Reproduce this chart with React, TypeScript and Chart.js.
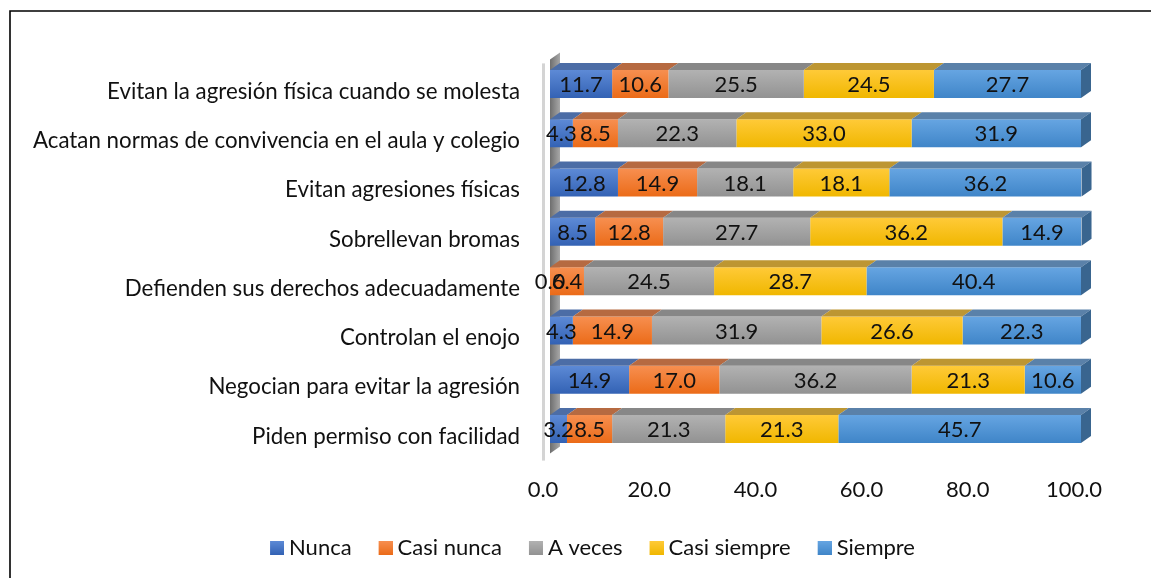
import React, { useEffect, useRef } from "react";
import { Chart, registerables } from "chart.js";

Chart.register(...registerables);

const categories = [
  "Evitan la agresión física cuando se molesta",
  "Acatan normas de convivencia en el aula y colegio",
  "Evitan agresiones físicas",
  "Sobrellevan bromas",
  "Defienden sus derechos adecuadamente",
  "Controlan el enojo",
  "Negocian para evitar la agresión",
  "Piden permiso con facilidad",
];
const nunca = [11.7, 4.3, 12.8, 8.5, 0.0, 4.3, 14.9, 3.2];
const casiNunca = [10.6, 8.5, 14.9, 12.8, 6.4, 14.9, 17.0, 8.5];
const aVeces = [25.5, 22.3, 18.1, 27.7, 24.5, 31.9, 36.2, 21.3];
const casiSiempre = [24.5, 33.0, 18.1, 36.2, 28.7, 26.6, 21.3, 21.3];
const siempre = [27.7, 31.9, 36.2, 14.9, 40.4, 22.3, 10.6, 45.7];

const FONT = "Lato, Carlito, sans-serif";
const TEXT = "#111111";
const DX = 10;
const DY = 7;
const BAR_H = 28;

const seriesStyles = [
  { name: "Nunca", data: nunca, hi: "#5d8ad6", lo: "#3362b4", top: "#4c6da6" },
  { name: "Casi nunca", data: casiNunca, hi: "#f78f50", lo: "#eb6b18", top: "#b66a41" },
  { name: "A veces", data: aVeces, hi: "#b2b2b2", lo: "#929292", top: "#878787" },
  { name: "Casi siempre", data: casiSiempre, hi: "#ffca38", lo: "#f0b700", top: "#bd9632" },
  { name: "Siempre", data: siempre, hi: "#66a5e2", lo: "#3f85c8", top: "#5a81a9" },
];

function swatch(hi: string, lo: string) {
  const c = document.createElement("canvas");
  c.width = 26;
  c.height = 14;
  const g = c.getContext("2d")!;
  const grad = g.createLinearGradient(0, 0, 0, 14);
  grad.addColorStop(0, hi);
  grad.addColorStop(1, lo);
  g.fillStyle = grad;
  g.fillRect(12, 0, 14, 14);
  return c;
}

const pseudo3d = {
  id: "pseudo3d",
  afterLayout(chart: any) {
    // the category labels are longer than the axis box: let them use the free space on the left
    chart.scales.y.left = 0;
  },
  beforeDraw(chart: any) {
    const { ctx, width, height } = chart;
    ctx.save();
    ctx.fillStyle = "#ffffff";
    ctx.fillRect(0, 0, width, height);
    ctx.strokeStyle = "#000000";
    ctx.lineWidth = 1.6;
    ctx.beginPath();
    ctx.moveTo(10, height);
    ctx.lineTo(10, 11);
    ctx.lineTo(width, 11);
    ctx.stroke();
    ctx.restore();
  },
  beforeDatasetsDraw(chart: any) {
    const { ctx, chartArea, scales } = chart;
    const x0 = scales.x.getPixelForValue(0);
    const t = chartArea.top;
    const b = chartArea.bottom;
    ctx.save();
    ctx.fillStyle = "#d4d4d4";
    ctx.fillRect(x0 - 8, t + 4, 3, b - t + 3);
    const g = ctx.createLinearGradient(x0, 0, x0 + DX, 0);
    g.addColorStop(0, "#6e6e6e");
    g.addColorStop(1, "#a8a8a8");
    ctx.fillStyle = g;
    ctx.beginPath();
    ctx.moveTo(x0, t);
    ctx.lineTo(x0 + DX, t - DY);
    ctx.lineTo(x0 + DX, b - DY);
    ctx.lineTo(x0, b);
    ctx.closePath();
    ctx.fill();
    ctx.restore();
  },
  afterDatasetsDraw(chart: any) {
    const { ctx } = chart;
    ctx.save();
    chart.data.datasets.forEach((_: any, di: number) => {
      const meta = chart.getDatasetMeta(di);
      const st = seriesStyles[di];
      meta.data.forEach((bar: any) => {
        const { x, y, base, height } = bar.getProps(["x", "y", "base", "height"], true);
        const top = y - height / 2;
        const bottom = y + height / 2;
        ctx.fillStyle = st.top;
        ctx.beginPath();
        ctx.moveTo(base, top);
        ctx.lineTo(base + DX, top - DY);
        ctx.lineTo(x + DX, top - DY);
        ctx.lineTo(x, top);
        ctx.closePath();
        ctx.fill();
        if (di === chart.data.datasets.length - 1) {
          ctx.fillStyle = "#39658f";
          ctx.beginPath();
          ctx.moveTo(x, top);
          ctx.lineTo(x + DX, top - DY);
          ctx.lineTo(x + DX, bottom - DY);
          ctx.lineTo(x, bottom);
          ctx.closePath();
          ctx.fill();
        }
      });
    });
    ctx.font = `22px ${FONT}`;
    ctx.fillStyle = TEXT;
    ctx.textAlign = "center";
    ctx.textBaseline = "middle";
    chart.data.datasets.forEach((ds: any, di: number) => {
      const meta = chart.getDatasetMeta(di);
      meta.data.forEach((bar: any, i: number) => {
        const { x, y, base } = bar.getProps(["x", "y", "base"], true);
        ctx.fillText(ds.data[i].toFixed(1), (x + base) / 2, y + 1);
      });
    });
    ctx.restore();
  },
};

export default function App() {
  const ref = useRef<HTMLCanvasElement>(null);
  useEffect(() => {
    const swatches = seriesStyles.map((s) => swatch(s.hi, s.lo));
    const chart = new Chart(ref.current!, {
      type: "bar",
      data: {
        labels: categories,
        datasets: seriesStyles.map((s) => ({
          label: s.name,
          data: s.data,
          barPercentage: 0.568,
          categoryPercentage: 1,
          borderWidth: 0,
          backgroundColor: (c: any) => {
            const yScale = c.chart.scales.y;
            if (!yScale || c.dataIndex === undefined) return s.lo;
            const mid = yScale.getPixelForValue(c.dataIndex);
            const g = c.chart.ctx.createLinearGradient(0, mid - BAR_H / 2, 0, mid + BAR_H / 2);
            g.addColorStop(0, s.hi);
            g.addColorStop(1, s.lo);
            return g;
          },
        })),
      },
      options: {
        indexAxis: "y",
        animation: false,
        responsive: false,
        layout: { padding: { left: 98, right: 70, top: 59.4, bottom: 9 } },
        scales: {
          x: {
            stacked: true,
            min: 0,
            max: 100,
            grid: { display: false },
            border: { display: false },
            afterFit: (s: any) => {
              s.height = 62.4;
            },
            ticks: {
              stepSize: 20,
              padding: 15.4,
              labelOffset: -7,
              maxRotation: 0,
              color: TEXT,
              font: { family: FONT, size: 22 },
              callback: (v: any) => Number(v).toFixed(1),
            },
          },
          y: {
            stacked: true,
            grid: { display: false },
            border: { display: false },
            afterFit: (s: any) => {
              s.width = 452;
            },
            ticks: {
              padding: 22,
              labelOffset: 7.5,
              autoSkip: false,
              color: TEXT,
              font: { family: FONT, size: 22.3 },
            },
          },
        },
        plugins: {
          tooltip: { enabled: false },
          legend: {
            position: "bottom",
            labels: {
              usePointStyle: true,
              boxWidth: 14,
              boxHeight: 14,
              padding: 21,
              color: TEXT,
              font: { family: FONT, size: 22 },
              generateLabels: () =>
                seriesStyles.map((s, i) => ({
                  text: s.name,
                  fontColor: TEXT,
                  pointStyle: swatches[i],
                  datasetIndex: i,
                  lineWidth: 0,
                })),
            },
          },
        },
      },
      plugins: [pseudo3d],
    } as any);
    return () => chart.destroy();
  }, []);
  return (
    <div style={{ position: "absolute", left: 0, top: 0, width: 1151, height: 578, overflow: "hidden" }}>
      <canvas ref={ref} width={1151} height={578} style={{ display: "block" }} />
    </div>
  );
}
